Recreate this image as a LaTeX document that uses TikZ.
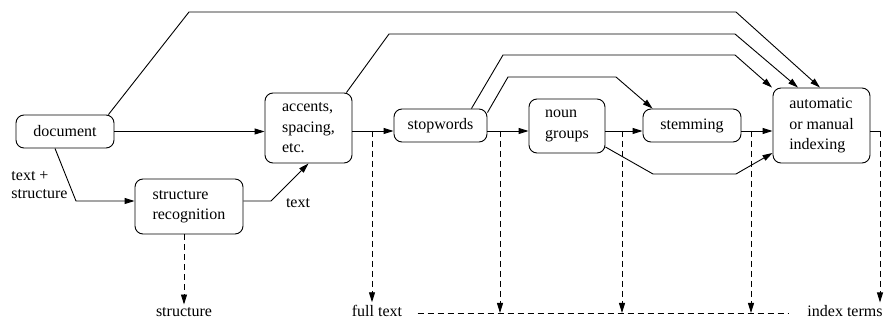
\documentclass[tikz,border=0pt]{standalone}
\usepackage{fontspec}
\setmainfont{Liberation Serif}
\newfontfamily\diagfont{Liberation Serif}
\usetikzlibrary{arrows.meta}
\tikzstyle{block} = [rectangle, draw, rounded corners=8pt, align=left, inner sep=3pt]
\tikzstyle{outtext} = [inner sep=3pt]
\tikzstyle{outflow} = [dash pattern=on 6pt off 4pt]

\begin{document}
\begin{tikzpicture}[x=1pt,y=-1pt,->,>={Triangle[length=10pt,width=6pt]},
                    line width=0.9pt,font=\diagfont\fontsize{16}{20.5}\selectfont]
  \useasboundingbox (0,0) rectangle (884,320);

  \node[block, minimum width=98pt, minimum height=33pt]  (doc)     at (65,131.5)  {document};
  \node[block, minimum width=108pt, minimum height=55pt] (recog)   at (189,206.5) {structure\\recognition};
  \node[block, minimum width=87pt, minimum height=70pt]  (accents) at (308.5,128) {accents,\\spacing,\\etc.};
  \node[block, minimum width=93pt, minimum height=33pt]  (stop)    at (440.5,125.5) {stopwords};
  \node[block, minimum width=76pt, minimum height=54pt]  (noun)    at (567,126)   {noun\\groups};
  \node[block, minimum width=98pt, minimum height=33pt]  (stem)    at (692,125.5) {stemming};
  \node[block, minimum width=97pt, minimum height=75pt]  (index)   at (821.5,125.5) {automatic\\or manual\\indexing};

  \node[outtext, anchor=base]  (struct) at (184,317) {structure};
  \node[outtext, anchor=base]  (full)   at (377,317) {full text};
  \node[outtext, anchor=base]  (terms)  at (845,317) {index terms};
  \node[outtext, align=left, anchor=north west, font=\diagfont\fontsize{16}{18}\selectfont] (ts) at (8,168) {text +\\structure};
  \node[outtext]               (txt)    at (298,203) {text};

  % taps on the main line
  \coordinate (t1) at (372,131);
  \coordinate (t2) at (500,131);
  \coordinate (t3) at (622,131);
  \coordinate (t4) at (751,131);
  \coordinate (t5) at (880,131);
  \coordinate (hline) at ([yshift=4pt]full.base east);

  % main line
  \draw (doc.east) -- (doc.east -| accents.west);
  \draw (accents.east |- t1) -- (stop.west |- t1);
  \draw (stop.east |- t2) -- (noun.west |- t2);
  \draw (noun.east |- t3) -- (stem.west |- t3);
  \draw (stem.east |- t4) -- (index.west |- t4);
  \draw[-] (index.east |- t5) -- (t5);

  % structure branch
  \draw ([xshift=-10pt]doc.south) -- (76,201) -- (recog.west |- 0,201);
  \draw (recog.east |- 0,201) -- (271,201) -- (accents.south);

  % bypasses
  \draw ([xshift=-6pt]doc.north east) -- (189,12) -- (736,12) -- (index.north -| 820,0);
  \draw ([xshift=-6pt]accents.north east) -- (389,34) -- (735,34) -- (index.north -| 798,0);
  \draw ([xshift=-16pt]stop.north east) -- (503,55) -- (735,55) -- (index.north -| 772,0);
  \draw ([yshift=-4pt]stop.north east) -- (508,77) -- (616,77) -- ([xshift=10pt]stem.north west);
  \draw (noun.east |- 0,147) -- (653,174) -- (736,174) -- (index.west |- 0,153);

  % outputs
  \draw[outflow] (struct.north |- recog.south) -- (struct.north);
  \draw[outflow] (t1) -- (t1 |- full.north);
  \draw[outflow] (t2) -- (t2 |- hline);
  \draw[outflow] (t3) -- (t3 |- hline);
  \draw[outflow] (t4) -- (t4 |- hline);
  \draw[outflow] (t5) -- (t5 |- terms.north);
  \draw[outflow,-] ([xshift=12pt]hline) -- ([shift={(-15pt,4pt)}]terms.base west);
\end{tikzpicture}
\end{document}
